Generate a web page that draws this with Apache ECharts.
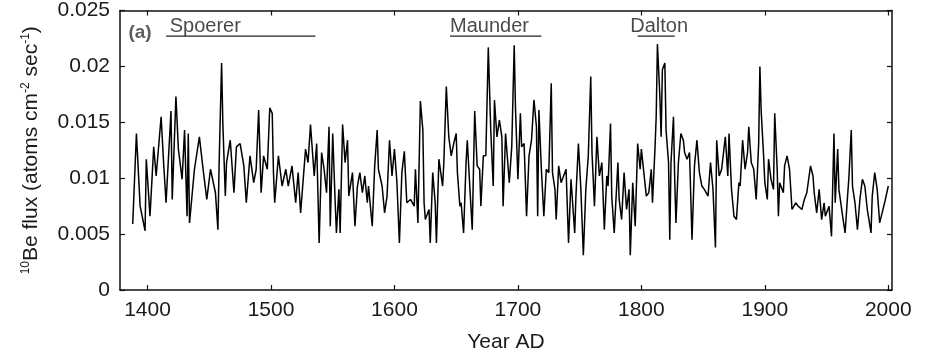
<!DOCTYPE html>
<html><head><meta charset="utf-8">
<script src="https://cdn.jsdelivr.net/npm/echarts@6/dist/echarts.min.js"></script>
<style>html,body{margin:0;padding:0;background:#fff}#c{width:933px;height:358px}</style>
</head><body><div id="c"></div>
<script>
// ---- data ----
const years = [
1388,1391,1394,1398,1399,1402,1405,1407,1411,1413,1415,1419,1420,1423,1425,1428,1430,1432,1433,1434,
1438,1442,1445,1448,1451,1455,1457,1458,1460,1461,1463,1464,1467,1470,1472,1475,1478,1480,1483,1486,
1488,1490,1492,1494,1497,1499,1501,1502,1503,1506,1509,1512,1514,1517,1520,1522,1524,1528,1530,1532,
1535,1537,1539,1541,1543,1545,1547,1548,1550,1552,1553,1555,1556,1558,1560,1562,1563,1566,1568,1570,
1572,1574,1576,1578,1579,1582,1584,1586,1587,1590,1592,1594,1596,1598,1600,1602,1604,1606,1608,1610,
1613,1616,1617,1619,1621,1623,1624,1625,1628,1629,1631,1633,1634,1636,1639,1640,1642,1644,1646,1648,
1650,1651,1653,1654,1656,1658,1659,1661,1663,1665,1667,1669,1670,1672,1674,1676,1678,1680,1681,1683,
1685,1687,1688,1690,1693,1695,1697,1698,1700,1702,1703,1705,1707,1709,1711,1713,1715,1716,1717,1719,
1721,1723,1725,1727,1728,1730,1731,1733,1735,1737,1739,1741,1743,1746,1747,1749,1751,1753,1755,1757,
1759,1760,1762,1764,1766,1768,1770,1772,1773,1775,1776,1778,1781,1782,1784,1786,1788,1790,1791,1793,
1795,1797,1799,1800,1802,1804,1806,1808,1809,1811,1812,1813,1815,1816,1817,1819,1820,1822,1823,1824,
1826,1827,1828,1830,1832,1834,1835,1837,1839,1841,1843,1845,1847,1849,1851,1854,1856,1858,1860,1861,
1863,1865,1868,1870,1871,1873,1875,1877,1879,1880,1882,1884,1886,1887,1889,1891,1893,1895,1896,1897,
1899,1900,1902,1903,1905,1907,1908,1910,1911,1912,1915,1916,1918,1920,1922,1925,1927,1930,1932,1934,
1937,1939,1940,1942,1944,1946,1948,1949,1952,1954,1956,1957,1959,1960,1963,1965,1967,1968,1970,1971,
1973,1975,1977,1979,1981,1983,1986,1987,1989,1991,1993,1995,1997,2000
];
const flux = [
0.0059,0.0140,0.0075,0.0053,0.0117,0.0066,0.0128,0.0102,0.0155,0.0114,0.0078,0.0160,0.0081,0.0173,0.0126,0.0099,0.0143,0.0066,0.0140,0.0060,
0.0108,0.0137,0.0108,0.0081,0.0108,0.0087,0.0054,0.0114,0.0203,0.0149,0.0084,0.0114,0.0134,0.0087,0.0128,0.0131,0.0111,0.0078,0.0120,0.0096,
0.0108,0.0161,0.0087,0.0120,0.0108,0.0163,0.0158,0.0105,0.0078,0.0120,0.0093,0.0108,0.0093,0.0111,0.0078,0.0105,0.0069,0.0126,0.0114,0.0148,
0.0102,0.0131,0.0042,0.0123,0.0108,0.0087,0.0146,0.0057,0.0140,0.0078,0.0051,0.0090,0.0051,0.0148,0.0114,0.0134,0.0084,0.0105,0.0057,0.0093,
0.0105,0.0087,0.0102,0.0078,0.0093,0.0057,0.0111,0.0143,0.0108,0.0093,0.0069,0.0084,0.0134,0.0102,0.0126,0.0096,0.0042,0.0105,0.0124,0.0078,
0.0081,0.0075,0.0108,0.0060,0.0169,0.0143,0.0078,0.0063,0.0072,0.0042,0.0105,0.0078,0.0042,0.0117,0.0093,0.0114,0.0182,0.0137,0.0120,0.0131,
0.0140,0.0105,0.0075,0.0078,0.0051,0.0114,0.0134,0.0093,0.0054,0.0160,0.0111,0.0108,0.0075,0.0120,0.0120,0.0217,0.0143,0.0093,0.0170,0.0137,
0.0152,0.0137,0.0075,0.0140,0.0096,0.0128,0.0219,0.0164,0.0099,0.0158,0.0128,0.0131,0.0066,0.0120,0.0134,0.0170,0.0146,0.0066,0.0161,0.0108,
0.0066,0.0108,0.0105,0.0185,0.0105,0.0090,0.0063,0.0111,0.0096,0.0102,0.0108,0.0042,0.0099,0.0051,0.0084,0.0131,0.0090,0.0031,0.0090,0.0120,
0.0191,0.0123,0.0075,0.0137,0.0102,0.0114,0.0054,0.0102,0.0093,0.0149,0.0084,0.0051,0.0114,0.0081,0.0063,0.0105,0.0072,0.0090,0.0031,0.0096,
0.0057,0.0131,0.0108,0.0126,0.0105,0.0084,0.0087,0.0108,0.0078,0.0126,0.0155,0.0220,0.0173,0.0137,0.0197,0.0203,0.0143,0.0114,0.0045,0.0114,
0.0155,0.0099,0.0060,0.0114,0.0140,0.0134,0.0123,0.0117,0.0123,0.0045,0.0111,0.0134,0.0105,0.0093,0.0090,0.0084,0.0114,0.0090,0.0038,0.0134,
0.0102,0.0108,0.0137,0.0102,0.0140,0.0090,0.0066,0.0063,0.0096,0.0093,0.0134,0.0108,0.0123,0.0146,0.0114,0.0108,0.0081,0.0131,0.0200,0.0161,
0.0120,0.0096,0.0081,0.0117,0.0099,0.0090,0.0158,0.0108,0.0066,0.0096,0.0087,0.0111,0.0120,0.0108,0.0072,0.0078,0.0075,0.0072,0.0081,0.0087,
0.0111,0.0102,0.0087,0.0069,0.0090,0.0063,0.0078,0.0066,0.0075,0.0048,0.0140,0.0078,0.0126,0.0090,0.0066,0.0051,0.0084,0.0099,0.0143,0.0093,
0.0078,0.0054,0.0081,0.0099,0.0093,0.0072,0.0051,0.0084,0.0105,0.0090,0.0060,0.0069,0.0078,0.0093
];
const xTicks = [1400, 1500, 1600, 1700, 1800, 1900, 2000];
const yTicks = [0, 0.005, 0.01, 0.015, 0.02, 0.025];
const yTickLabels = ['0', '0.005', '0.01', '0.015', '0.02', '0.025'];
const periodNames = ['Spoerer', 'Maunder', 'Dalton'];
const periodStart = [1415, 1645, 1797];
const periodEnd = [1536, 1719, 1827];
const periodLabelYear = [1418, 1645, 1791];
const periodLevel = 0.0227;
const periodLabelLevel = 0.0236;
const panelTag = '(a)';
const panelTagPos = [1384.5, 0.0230];

// ---- chart ----
const FONT = 'Liberation Sans, Arial, sans-serif';
const INK = '#1a1a1a';
const chart = echarts.init(document.getElementById('c'), null, {renderer: 'canvas'});

const frameAxis = (extra) => Object.assign({
  type: 'value',
  axisLine: {show: true, onZero: false, lineStyle: {color: '#111', width: 1.5}},
  splitLine: {show: false},
  axisTick: {show: true, inside: true, length: 5, lineStyle: {color: '#111', width: 1.2}},
  axisLabel: {show: false}
}, extra);

const series = [{
  type: 'line',
  data: years.map((y, i) => [y, flux[i]]),
  symbol: 'none',
  lineStyle: {color: '#000', width: 1.5},
  silent: true,
  z: 3
}];
periodNames.forEach((n, i) => {
  series.push({
    type: 'line',
    data: [[periodStart[i], periodLevel], [periodEnd[i], periodLevel]],
    symbol: 'none',
    lineStyle: {color: '#222', width: 1.3},
    silent: true
  });
  series.push({
    type: 'scatter',
    data: [[periodLabelYear[i], periodLabelLevel]],
    symbolSize: 0,
    silent: true,
    label: {show: true, position: [0, 0], align: 'left', verticalAlign: 'middle',
      formatter: n, fontSize: 20, fontFamily: FONT, color: INK}
  });
});
series.push({
  type: 'scatter',
  data: [panelTagPos],
  symbolSize: 0,
  silent: true,
  label: {show: true, position: [0, 0], align: 'left', verticalAlign: 'middle',
    formatter: panelTag, fontSize: 19, fontWeight: 'bold', fontFamily: FONT, color: '#333'}
});

chart.setOption({
  animation: false,
  backgroundColor: '#fff',
  grid: {left: 120, right: 41, top: 10, bottom: 67},
  xAxis: [
    frameAxis({position: 'bottom', min: 1377.7, max: 2003,
      axisTick: {show: true, inside: true, length: 5, customValues: xTicks, lineStyle: {color: '#111', width: 1.2}},
      axisLabel: {show: true, customValues: xTicks, fontSize: 21, fontFamily: FONT, color: INK, margin: 10,
        formatter: v => String(Math.round(v))},
      name: 'Year AD', nameLocation: 'middle', nameGap: 42,
      nameTextStyle: {fontSize: 21, fontFamily: FONT, color: INK}}),
    frameAxis({position: 'top', min: 1377.7, max: 2003,
      axisTick: {show: true, inside: true, length: 5, customValues: xTicks, lineStyle: {color: '#111', width: 1.2}}})
  ],
  yAxis: [
    frameAxis({position: 'left', min: 0, max: 0.025,
      axisTick: {show: true, inside: true, length: 5, customValues: yTicks, lineStyle: {color: '#111', width: 1.2}},
      axisLabel: {show: true, customValues: yTicks, fontSize: 21, fontFamily: FONT, color: INK, margin: 10,
        formatter: v => { const k = yTicks.findIndex(t => Math.abs(t - v) < 1e-9); return k >= 0 ? yTickLabels[k] : ''; }},
      name: '{s|10}Be flux (atoms cm{s|-2} sec{s|-1})', nameLocation: 'middle', nameGap: 78, nameRotate: 90,
      nameTextStyle: {fontSize: 21, fontFamily: FONT, color: INK, lineHeight: 22,
        rich: {s: {fontSize: 12, fontFamily: FONT, color: INK, verticalAlign: 'top', lineHeight: 12}}}}),
    frameAxis({position: 'right', min: 0, max: 0.025,
      axisTick: {show: true, inside: true, length: 5, customValues: yTicks, lineStyle: {color: '#111', width: 1.2}}})
  ],
  series: series
});
</script>
</body></html>
